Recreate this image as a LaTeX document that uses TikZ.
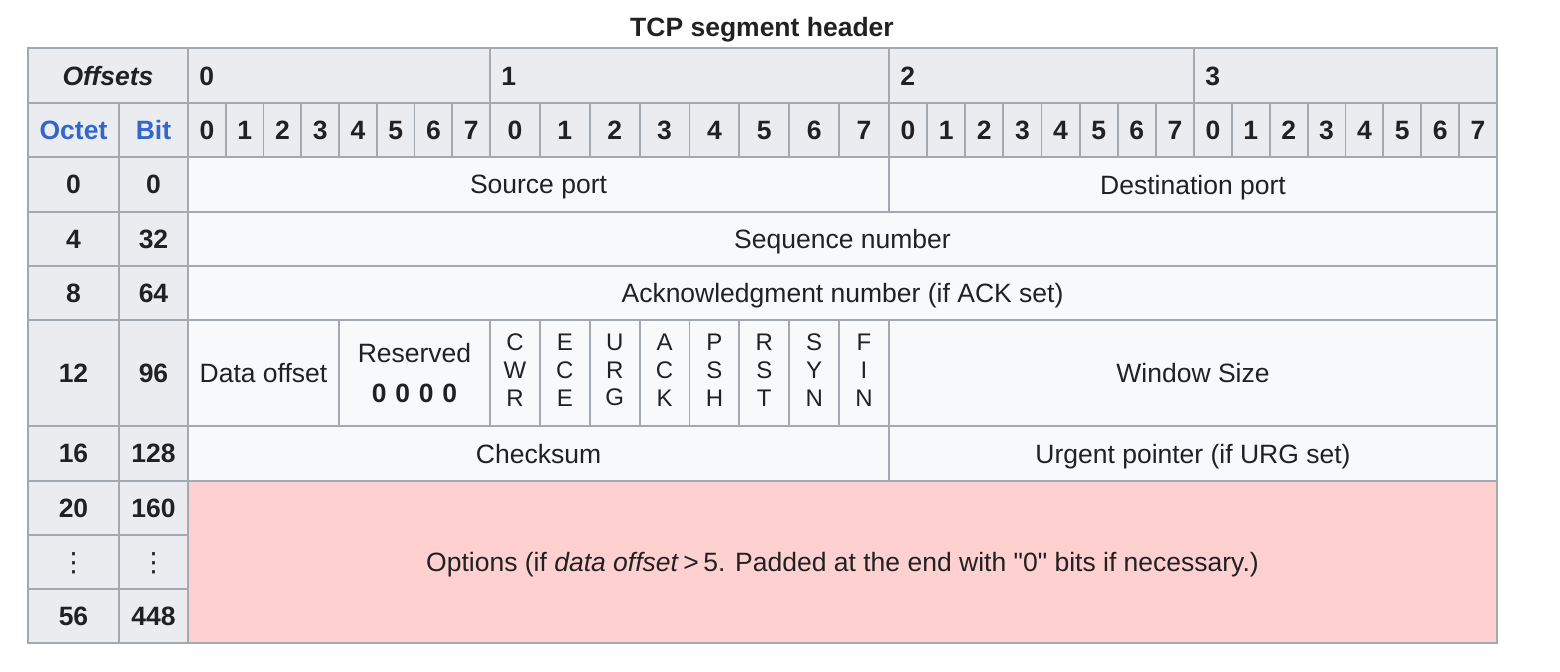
\documentclass[tikz,border=0pt]{standalone}
\usepackage{fontspec}
\setmainfont{Liberation Sans}[Ligatures=TeXOff]
\newfontfamily\dejavu{DejaVu Sans}
\definecolor{hdrbg}{HTML}{EAECF0}
\definecolor{cellbg}{HTML}{F8F9FA}
\definecolor{optbg}{HTML}{FFD0D0}
\definecolor{gridc}{HTML}{A2A9B1}
\definecolor{txtc}{HTML}{202122}
\definecolor{linkc}{HTML}{3366CC}
\tikzset{
  hcell/.style={draw=gridc, fill=hdrbg, line width=0.9pt},
  dcell/.style={draw=gridc, fill=cellbg, line width=0.9pt},
  ocell/.style={draw=gridc, fill=optbg, line width=0.9pt},
  hlabel/.style={font=\fontsize{13.25}{16}\selectfont\bfseries, text=txtc},
  flaglabel/.style={font=\fontsize{12}{13.9}\selectfont, align=center, text=txtc, inner sep=0pt},
}
% cell: style, x1, y1, x2, y2, node name, text (coordinates in pixels)
\newcommand\tcpcell[7]{%
  \path[#1] (#2,#3) rectangle (#4,#5);
  \node[inner sep=0pt, text depth=0pt] (#6) at ({(#2+#4)/2},{(#3+#5)/2}) {#7};}

\begin{document}
\begin{tikzpicture}[x=0.5pt, y=-0.5pt, font=\fontsize{13.25}{16}\selectfont, text=txtc]
  \useasboundingbox (0,0) rectangle (1560,672);
  \node[hlabel, inner sep=0pt, text depth=0pt] (title) at (762,27) {TCP segment header};
  % header rows
  \tcpcell{hcell}{28}{48}{188}{103}{offsets}{\textbf{\textit{Offsets}}}
  \tcpcell{hcell}{28}{103}{119}{157}{octet}{\textbf{\color{linkc}Octet}}
  \tcpcell{hcell}{119}{103}{188}{157}{bit}{\textbf{\color{linkc}Bit}}
  \foreach \a/\b [count=\o from 0] in {188/490, 490/889, 889/1194, 1194/1497}{
    \path[hcell] (\a,48) rectangle (\b,103);
    \node[hlabel, anchor=west, inner sep=0pt, text depth=0pt] (oct\o) at (\a+11,76) {\o};
    \pgfmathsetmacro\w{(\b-\a)/8}
    \foreach \i in {0,...,7}
      \tcpcell{hcell}{\a+\i*\w}{103}{\a+\i*\w+\w}{157}{bit\o\i}{\textbf{\i}};
  }
  % row offsets
  \foreach \ya/\yb/\oc/\bt [count=\r] in {157/212/0/0, 212/266/4/32, 266/320/8/64,
      320/426/12/96, 426/481/16/128, 481/535/20/160, 535/589/{\mdseries\dejavu ⋮}/{\mdseries\dejavu ⋮}, 589/643/56/448}{
    \tcpcell{hcell}{28}{\ya}{119}{\yb}{oc\r}{\textbf{\oc}}
    \tcpcell{hcell}{119}{\ya}{188}{\yb}{bt\r}{\textbf{\bt}}
  }
  % fields
  \tcpcell{dcell}{188}{157}{889}{212}{srcport}{Source port}
  \tcpcell{dcell}{889}{157}{1497}{212}{dstport}{Destination port}
  \tcpcell{dcell}{188}{212}{1497}{266}{seqnum}{Sequence number}
  \tcpcell{dcell}{188}{266}{1497}{320}{acknum}{Acknowledgment number (if ACK set)}
  \tcpcell{dcell}{188}{320}{339}{426}{dataoff}{Data offset}
  \path[dcell] (339,320) rectangle (490,426);
  \node[inner sep=0pt, text depth=0pt] (resname) at (414.5,353) {Reserved};
  \node[inner sep=0pt, text depth=0pt] (resbits) at (414.5,393) {\textbf{0\,\,0\,\,0\,\,0}};
  \foreach \f [count=\i from 0] in {C\\W\\R, E\\C\\E, U\\R\\G, A\\C\\K, P\\S\\H, R\\S\\T, S\\Y\\N, F\\I\\N}{
    \path[dcell] (490+\i*49.875,320) rectangle (490+\i*49.875+49.875,426);
    \node[flaglabel] (flag\i) at (490+\i*49.875+24.94,370) {\f};
  }
  \tcpcell{dcell}{889}{320}{1497}{426}{winsize}{Window Size}
  \tcpcell{dcell}{188}{426}{889}{481}{checksum}{Checksum}
  \tcpcell{dcell}{889}{426}{1497}{481}{urgptr}{Urgent pointer (if URG set)}
  \tcpcell{ocell}{188}{481}{1497}{643}{options}{Options (if \textit{data offset}\,>\,5. Padded at the end with "0" bits if necessary.)}
\end{tikzpicture}
\end{document}
